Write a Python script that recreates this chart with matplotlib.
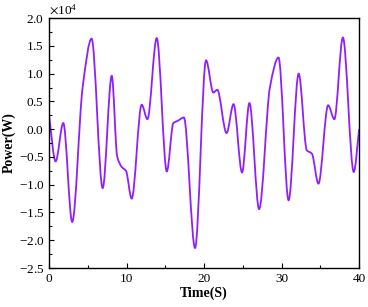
import numpy as np
import matplotlib
matplotlib.use('Agg')
import matplotlib.pyplot as plt
from matplotlib.path import Path
from matplotlib.patches import PathPatch
from matplotlib.ticker import MultipleLocator, ScalarFormatter

plt.rcParams['font.family'] = 'Liberation Serif'
plt.rcParams['axes.unicode_minus'] = False
plt.rcParams['mathtext.fontset'] = 'stix'

# key points (time in s, power in 1e4 W)
time_s = [0.0, 0.86, 1.85, 3.0, 4.35, 5.5, 6.93, 8.1, 8.8, 9.38, 9.93, 10.67,
          11.96, 12.7, 13.9, 15.2, 16.04, 16.6, 17.4, 18.84, 20.26, 21.2, 21.7,
          22.9, 23.8, 24.9, 25.85, 27.1, 28.5, 29.6, 30.9, 32.2, 33.25, 33.9,
          34.75, 36.0, 36.8, 37.9, 39.3, 40.0]
power_1e4 = [0.26, -0.58, 0.11, -1.67, 0.76, 1.63, -1.06, 0.96, -0.49, -0.68, -0.75, -1.25,
             0.44, 0.18, 1.64, -0.76, 0.11, 0.15, 0.21, -2.14, 1.24, 0.66, 0.71,
             -0.07, 0.45, -0.78, 0.47, -1.44, 0.76, 1.29, -1.28, 1.0, -0.38, -0.44,
             -0.98, 0.43, 0.18, 1.65, -0.77, 0.0]

x = np.array(time_s)
y = np.array(power_1e4) * 1e4


def pchip_slopes(x, y):
    h = np.diff(x)
    d = np.diff(y) / h
    m = np.zeros_like(y)
    for k in range(1, len(x) - 1):
        if d[k - 1] * d[k] > 0:
            w1 = 2 * h[k] + h[k - 1]
            w2 = h[k] + 2 * h[k - 1]
            m[k] = (w1 + w2) / (w1 / d[k - 1] + w2 / d[k])
    m[0] = d[0]
    m[-1] = d[-1]
    return m


m = pchip_slopes(x, y)
verts = [(x[0], y[0])]
codes = [Path.MOVETO]
for i in range(len(x) - 1):
    h = x[i + 1] - x[i]
    verts += [(x[i] + h / 3, y[i] + m[i] * h / 3),
              (x[i + 1] - h / 3, y[i + 1] - m[i + 1] * h / 3),
              (x[i + 1], y[i + 1])]
    codes += [Path.CURVE4] * 3

fig = plt.figure(figsize=(3.68, 3.07), dpi=100)
ax = fig.add_axes([0.133, 0.127, 0.843, 0.814])
ax.add_patch(PathPatch(Path(verts, codes), facecolor='none',
                       edgecolor='#8f1fff', lw=1.3))

ax.set_xlim(0, 40)
ax.set_ylim(-2.5e4, 2.0e4)
ax.xaxis.set_major_locator(MultipleLocator(10))
ax.xaxis.set_minor_locator(MultipleLocator(5))
ax.yaxis.set_major_locator(MultipleLocator(0.5e4))
ax.yaxis.set_minor_locator(MultipleLocator(0.25e4))
fmt = ScalarFormatter(useMathText=True)
fmt.set_powerlimits((0, 0))
ax.yaxis.set_major_formatter(fmt)
ax.tick_params(which='both', direction='in', labelsize=9.5, top=False, right=False)
ax.tick_params(which='major', length=3.5, width=0.8)
ax.tick_params(which='minor', length=2, width=0.8)
ax.yaxis.get_offset_text().set_fontsize(9.5)
for s in ax.spines.values():
    s.set_linewidth(1.0)

ax.set_xlabel('Time(S)', fontsize=10, fontweight='bold', labelpad=1)
ax.set_ylabel('Power(W)', fontsize=10, fontweight='bold', labelpad=2)

plt.savefig('out.png', dpi=100)
